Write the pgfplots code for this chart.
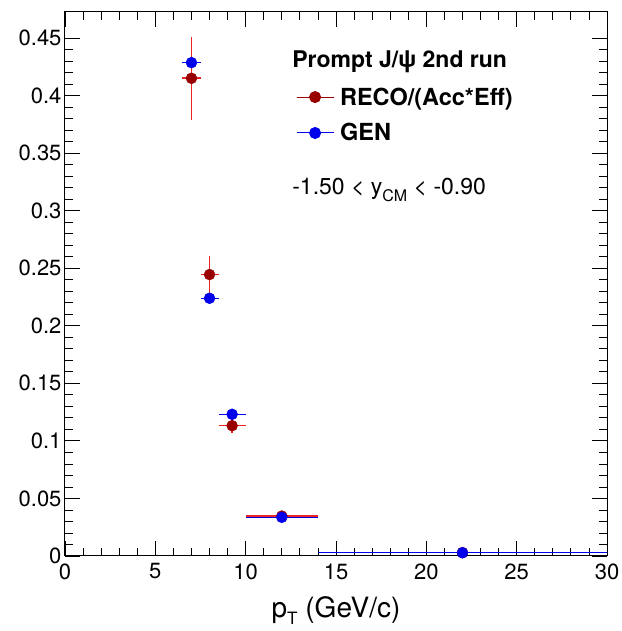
\documentclass[border=0pt]{standalone}
\usepackage{fontspec}
\setmainfont{TeX Gyre Heros}
\usepackage{pgfplots}
\pgfplotsset{compat=1.18}
\definecolor{recored}{RGB}{153,0,0}
\definecolor{recoerr}{RGB}{235,35,35}
\definecolor{genblue}{RGB}{0,0,235}

\begin{document}
\begin{tikzpicture}
% page size matches the reference canvas (1px = 1pt)
\path[use as bounding box] (-65pt,-75pt) rectangle (556pt,556pt);
\begin{axis}[
    scale only axis,
    width=542pt, height=544pt,
    xmin=0, xmax=30, ymin=0, ymax=0.4726,
    xtick={0,5,10,15,20,25,30},
    ytick={0,0.05,0.1,0.15,0.2,0.25,0.3,0.35,0.4,0.45},
    yticklabels={0,0.05,0.1,0.15,0.2,0.25,0.3,0.35,0.4,0.45},
    minor x tick num=4, minor y tick num=4,
    major tick length=15pt, minor tick length=8pt,
    tick style={black, line width=0.8pt},
    axis line style={line width=1pt},
    /pgf/number format/assume math mode=true,
    ticklabel style={font=\fontsize{22}{22}\selectfont},
    xticklabel style={yshift=-4pt},
    xlabel={p\raisebox{-7pt}{\fontsize{17}{17}\selectfont T} (GeV/c)},
    xlabel style={font=\fontsize{28}{28}\selectfont, yshift=-10pt},
    legend style={at={(rel axis cs:0.426,0.865)}, anchor=north west,
        draw=none, fill=none, inner sep=0pt,
        font=\fontsize{23.5}{23.5}\selectfont\bfseries, row sep=13pt,
        /tikz/every odd column/.append style={column sep=4pt}},
    legend cell align=left,
    legend image code/.code={
        \draw[#1] (0pt,0pt) -- (37pt,0pt);
        \draw[#1] plot coordinates {(18.5pt,0pt)};
    },
]

% RECO/(Acc*Eff)
\addplot[forget plot, only marks, mark=*, mark size=5.5pt, color=recoerr,
    line width=1.6pt, mark options={draw=recored, fill=recored, line width=0.4pt},
    error bars/.cd, x dir=both, x explicit, y dir=both, y explicit,
    error mark=none, error bar style={line width=1.6pt, color=recoerr}]
coordinates {
    (7,0.415) +- (0.5,0.036)
    (8,0.2445) +- (0.5,0.016)
    (9.25,0.1132) +- (0.75,0.006)
    (12,0.0347) +- (2,0.0015)
    (22,0.0030) +- (8,0.0002)
};
% GEN
\addplot[forget plot, only marks, mark=*, mark size=5.5pt, color=genblue,
    line width=1.2pt, mark options={line width=0.4pt},
    error bars/.cd, x dir=both, x explicit, y dir=both, y explicit,
    error mark=none, error bar style={line width=1.2pt, color=genblue}]
coordinates {
    (7,0.4286) +- (0.5,0.001)
    (8,0.2239) +- (0.5,0.001)
    (9.25,0.1231) +- (0.75,0.0008)
    (12,0.0336) +- (2,0.0003)
    (22,0.0028) +- (8,0.00005)
};

\addlegendimage{recored, mark=*, mark size=5.5pt, line width=1pt}
\addlegendentry{RECO/(Acc*Eff)}
\addlegendimage{genblue, mark=*, mark size=5.5pt, line width=1pt}
\addlegendentry{GEN}

\node[anchor=west, inner sep=0pt, font=\fontsize{23}{23}\selectfont\bfseries]
    at (rel axis cs:0.419,0.908) {Prompt J/ψ 2nd run};
\node[anchor=west, inner sep=0pt, font=\fontsize{23}{23}\selectfont]
    at (rel axis cs:0.419,0.673) {-1.50 < y\raisebox{-7pt}{\fontsize{16}{16}\selectfont CM} < -0.90};
\end{axis}
\end{tikzpicture}
\end{document}
